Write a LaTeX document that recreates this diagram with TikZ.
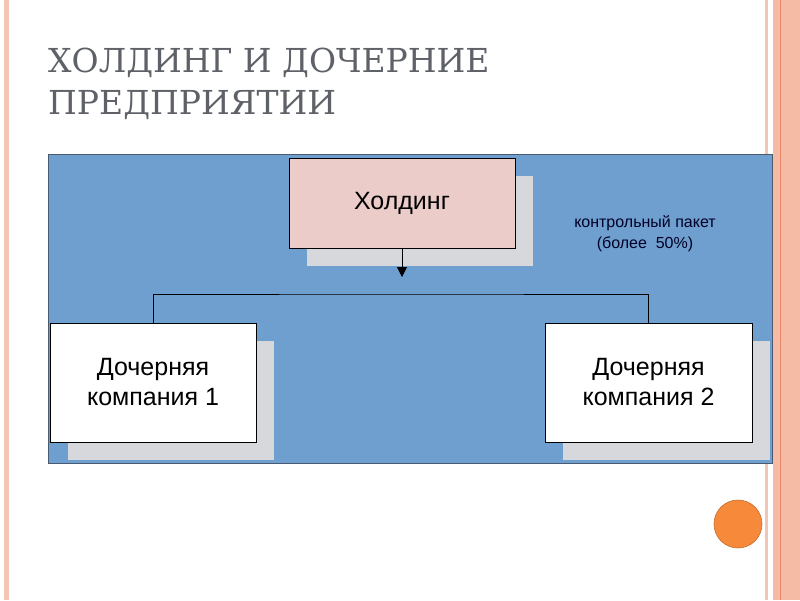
\documentclass[tikz,border=0pt]{standalone}
\usepackage{fontspec}
\setmainfont{Liberation Serif}
\setsansfont{Liberation Sans}
\newfontfamily\headfont{DejaVu Serif}
\usepackage{tikz}
\usetikzlibrary{positioning,arrows.meta,shadows}
\usepackage{xcolor}
\definecolor{panelblue}{RGB}{111,159,207}
\definecolor{panelline}{RGB}{74,90,112}
\definecolor{holdpink}{RGB}{235,204,201}
\definecolor{shadegray}{RGB}{214,216,219}
\definecolor{titlegray}{RGB}{94,97,103}
\definecolor{stripe}{RGB}{242,197,180}
\definecolor{salmon}{RGB}{246,187,165}
\definecolor{salmonline}{RGB}{232,137,107}
\definecolor{dotorange}{RGB}{246,138,58}

\tikzset{
  orgbox/.style={draw=black,line width=0.8pt,font=\sffamily\fontsize{25}{30}\selectfont,
    align=center,inner sep=0pt,
    general shadow={fill=shadegray,shadow xshift=18pt,shadow yshift=-18pt}},
  heading/.style={anchor=base west,text=titlegray,inner sep=0pt,
    font=\headfont\fontsize{33}{40}\selectfont},
  note/.style={font=\sffamily\fontsize{16}{21}\selectfont,text=black!85!blue,align=center}
}

\begin{document}
\begin{tikzpicture}[x=1pt,y=-1pt,>={Triangle[length=10pt,width=10pt]}]
\useasboundingbox (0,0) rectangle (800,600);
\fill[white] (0,0) rectangle (800,600);
% slide frame
\fill[stripe] (4,0) rectangle (9,600);
\fill[stripe] (765,0) rectangle (768,600);
\fill[salmon] (773,0) rectangle (800,600);
\draw[salmonline,line width=1pt] (780,0) -- (780,600);
% title
\node (title1) [heading] at (48,72) {ХОЛДИНГ И ДОЧЕРНИЕ};
\node (title2) [heading] at (48,114) {ПРЕДПРИЯТИИ};
% diagram
\draw[panelline,fill=panelblue,line width=0.6pt] (48,154) rectangle (772,463);
\node (hold) [orgbox,fill=holdpink,minimum width=226pt,minimum height=90pt] at (402,203) {Холдинг};
\node (sub1) [orgbox,fill=white,minimum width=206pt,minimum height=119pt] at (153,382.5) {Дочерняя\\компания 1};
\node (sub2) [orgbox,fill=white,minimum width=207pt,minimum height=119pt] at (648.5,382.5) {Дочерняя\\компания 2};
\node (pack) [note] at (645,234) {контрольный пакет\\(более~~50\%)};
\coordinate (tip) at (hold.south |- 0,277);
\coordinate (bar) at (hold.south |- 0,294);
\draw[->,line width=0.8pt] (hold.south) -- (tip);
\draw[line width=0.8pt] (sub1.north) |- (bar) -| (sub2.north);
% corner mark
\fill[dotorange,draw=dotorange!80!black,line width=0.6pt] (738,524) circle (24);
\end{tikzpicture}
\end{document}
